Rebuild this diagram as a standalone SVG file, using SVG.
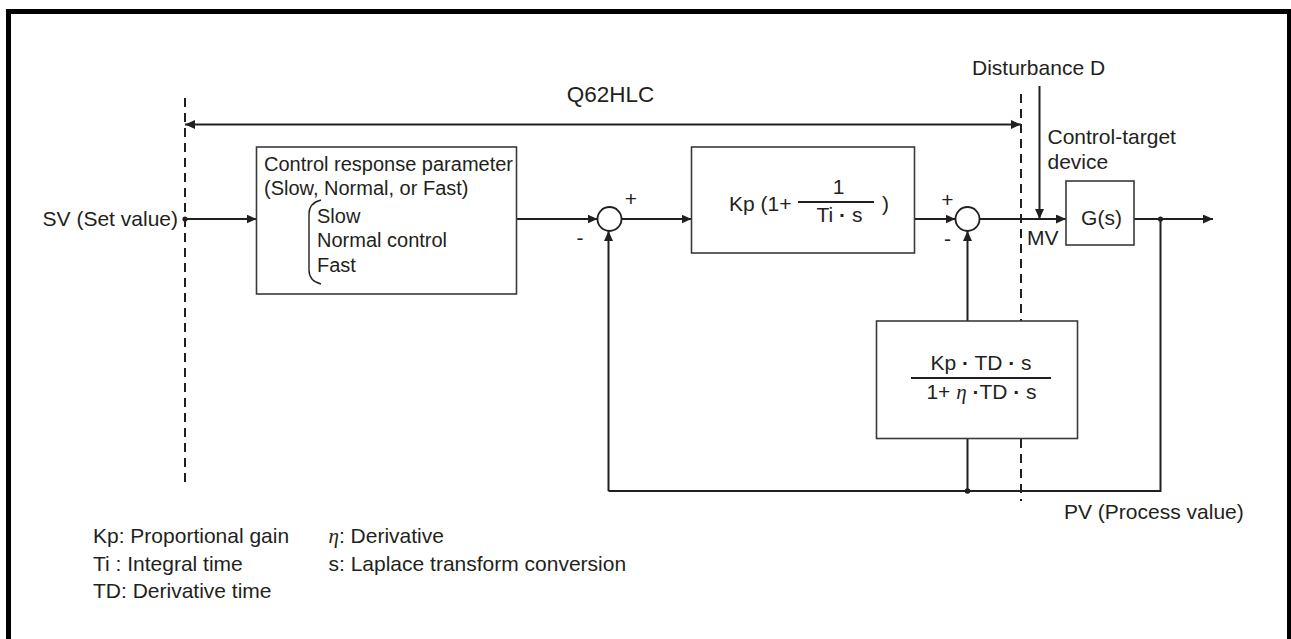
<svg xmlns="http://www.w3.org/2000/svg" width="1291" height="639" viewBox="0 0 1291 639">
<style>
text{font-family:"Liberation Sans",Arial,sans-serif;font-size:21px;fill:#231f20}
.sm{font-size:20px}
.box{fill:#fff;stroke:#3a3a3a;stroke-width:1.6}
.ln{fill:none;stroke:#231f20;stroke-width:2}
.arr{fill:none;stroke:#231f20;stroke-width:2;marker-end:url(#ah)}
.dash{fill:none;stroke:#231f20;stroke-width:2;stroke-dasharray:9 6}
.dot{fill:#231f20}
.mid{text-anchor:middle}
.b{font-weight:bold}
.gr{font-family:"Liberation Serif","DejaVu Serif",serif;font-style:italic}
</style>
<defs>
<marker id="ah" viewBox="0 0 10 9" refX="10" refY="4.5" markerWidth="10" markerHeight="9" markerUnits="userSpaceOnUse" orient="auto-start-reverse">
<path d="M0,0 L10,4.5 L0,9 z" fill="#231f20"/>
</marker>
</defs>
<rect x="8.5" y="11.5" width="1281" height="700" fill="none" stroke="#000" stroke-width="5"/>

<g id="connectors">
<line class="dash" x1="185" y1="98" x2="185" y2="484"/>
<line class="dash" x1="1021" y1="94" x2="1021" y2="501"/>
<line class="ln" x1="185" y1="124.5" x2="1021" y2="124.5" marker-start="url(#ah)" marker-end="url(#ah)"/>
<line class="arr" x1="185" y1="219" x2="256.5" y2="219"/>
<line class="arr" x1="516.5" y1="219" x2="597.5" y2="219"/>
<line class="arr" x1="621.5" y1="219" x2="691.5" y2="219"/>
<line class="arr" x1="914.5" y1="219" x2="955.5" y2="219"/>
<line class="arr" x1="979.5" y1="219" x2="1066" y2="219"/>
<line class="arr" x1="1039.5" y1="86" x2="1039.5" y2="219"/>
<line class="arr" x1="1134" y1="219" x2="1213" y2="219"/>
<polyline class="ln" points="1160.5,219 1160.5,491 608.5,491"/>
<line class="arr" x1="608.5" y1="491" x2="608.5" y2="231"/>
<line class="ln" x1="967.5" y1="491" x2="967.5" y2="438.5"/>
<line class="arr" x1="967.5" y1="321" x2="967.5" y2="231"/>
<circle class="dot" cx="185" cy="219" r="2.6"/>
<circle class="dot" cx="1160.5" cy="219" r="2.6"/>
<circle class="dot" cx="967.5" cy="491" r="2.8"/>
</g>

<g id="q62hlc"><text class="mid" x="610.5" y="102" style="font-size:22.5px">Q62HLC</text></g>
<g id="sv"><text x="178" y="226" text-anchor="end">SV (Set value)</text></g>

<g id="crp">
<rect class="box" x="256.5" y="147" width="260" height="147"/>
<text class="sm" x="264" y="171">Control response parameter</text>
<text class="sm" x="264" y="195">(Slow, Normal, or Fast)</text>
<path d="M321 200 Q309 203 309 214 L309 270 Q309 281 321 284" fill="none" stroke="#231f20" stroke-width="1.4"/>
<text class="sm" x="317" y="223">Slow</text>
<text class="sm" x="317" y="247">Normal control</text>
<text class="sm" x="317" y="272">Fast</text>
</g>

<g id="sum1">
<circle cx="609.5" cy="219" r="12" fill="#fff" stroke="#231f20" stroke-width="1.8"/>
<text class="mid" x="631" y="206">+</text>
<text class="mid" x="580" y="245">-</text>
</g>

<g id="pi">
<rect class="box" x="691.5" y="147" width="223" height="106"/>
<text x="729" y="211">Kp (1+</text>
<line x1="798" y1="202" x2="874" y2="202" stroke="#231f20" stroke-width="1.8"/>
<text class="mid" x="838.5" y="194">1</text>
<text class="mid" x="839.5" y="222">Ti <tspan class="b">·</tspan> s</text>
<text x="882" y="211">)</text>
</g>

<g id="sum2">
<circle cx="967.5" cy="219" r="12" fill="#fff" stroke="#231f20" stroke-width="1.8"/>
<text class="mid" x="947.5" y="207">+</text>
<text class="mid" x="947.5" y="246">-</text>
</g>

<g id="disturbance">
<text x="972" y="75">Disturbance D</text>
<text x="1047.5" y="144">Control-target</text>
<text x="1047.5" y="169">device</text>
<text x="1027" y="245">MV</text>
</g>

<g id="plant">
<rect class="box" x="1066" y="181" width="68" height="64"/>
<text class="mid" x="1101.5" y="225">G(s)</text>
</g>

<g id="deriv">
<rect class="box" x="876.5" y="321" width="201" height="117.5"/>
<text class="mid" x="981" y="370">Kp <tspan class="b">·</tspan> TD <tspan class="b">·</tspan> s</text>
<line x1="911" y1="378" x2="1051" y2="378" stroke="#231f20" stroke-width="1.8"/>
<text class="mid" x="981.5" y="399">1+ <tspan class="gr">η</tspan> <tspan class="b">·</tspan>TD <tspan class="b">·</tspan> s</text>
</g>

<g id="pv"><text x="1064" y="518.5">PV (Process value)</text></g>

<g id="legend">
<text x="93" y="543">Kp: Proportional gain</text>
<text x="93" y="570.5">Ti : Integral time</text>
<text x="93" y="597.5">TD: Derivative time</text>
<text x="328.5" y="543"><tspan class="gr">η</tspan>: Derivative</text>
<text x="328.5" y="570.5">s: Laplace transform conversion</text>
</g>
</svg>
